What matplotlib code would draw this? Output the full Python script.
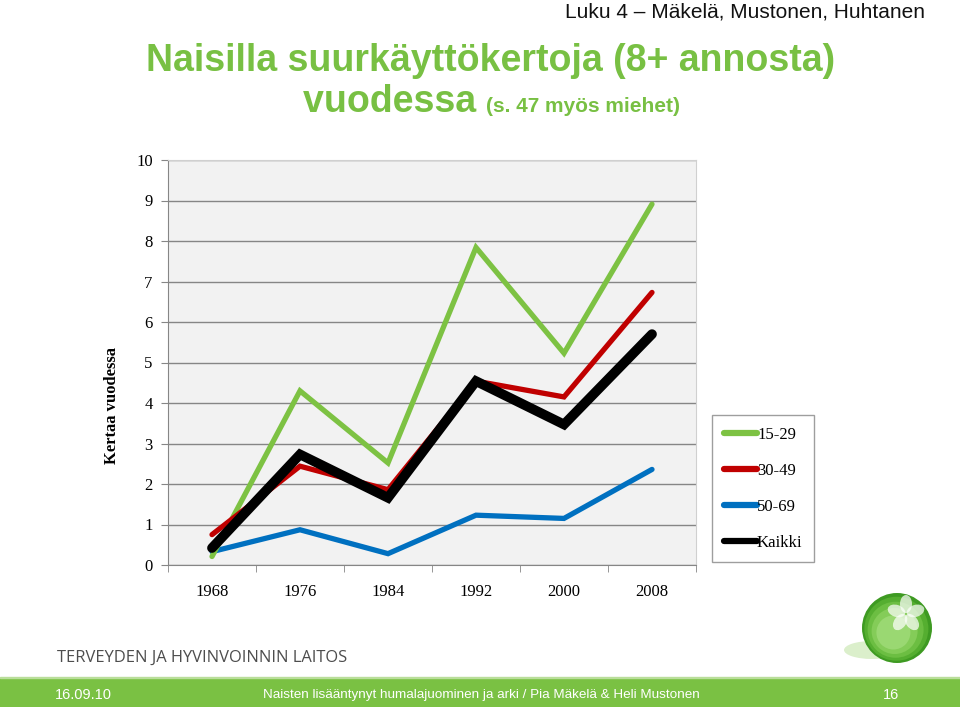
import numpy as np
import matplotlib
matplotlib.use("Agg")
import matplotlib.pyplot as plt
from matplotlib.patches import Circle, Ellipse, Rectangle
from matplotlib.lines import Line2D

# data
years = ["1968", "1976", "1984", "1992", "2000", "2008"]
g15_29 = [0.21, 4.30, 2.52, 7.84, 5.23, 8.91]
g30_49 = [0.75, 2.44, 1.86, 4.54, 4.15, 6.73]
g50_69 = [0.33, 0.87, 0.28, 1.23, 1.15, 2.36]
kaikki = [0.42, 2.73, 1.66, 4.54, 3.47, 5.70]
y_ticks = list(range(0, 11))
labels = ["15-29", "30-49", "50-69", "Kaikki"]

GREEN = "#7DC243"; RED = "#C00000"; BLUE = "#0070C0"; BLACK = "#000000"
TITLE_GREEN = "#78C043"
NARROW = ["Liberation Sans Narrow", "Liberation Sans", "DejaVu Sans"]
SERIF = ["Liberation Serif", "DejaVu Serif"]

W, H = 960, 707
fig = plt.figure(figsize=(W / 100, H / 100), dpi=100)


def fx(px):
    return px / W


def fy(py):
    return 1 - py / H


# chart
ax = fig.add_axes([fx(168), fy(565), fx(696) - fx(168), fy(160) - fy(565)])
ax.set_facecolor("#F2F2F2")
x = np.arange(len(years))
kw = dict(solid_capstyle="round", solid_joinstyle="miter")
ax.plot(x, g50_69, color=BLUE, lw=3.8, zorder=3, **kw)
ax.plot(x, g15_29, color=GREEN, lw=3.8, zorder=4, **kw)
ax.plot(x, g30_49, color=RED, lw=3.8, zorder=5, **kw)
ax.plot(x, kaikki, color=BLACK, lw=7, zorder=6, **kw)

ax.set_xlim(-0.5, len(years) - 0.5)
ax.set_ylim(0, 10)
ax.set_yticks(y_ticks)
ax.set_xticks(x)
ax.set_xticklabels(years)
ax.set_xticks(np.arange(-0.5, len(years)), minor=True)
ax.tick_params(axis="x", which="major", length=0, pad=14)
ax.tick_params(axis="x", which="minor", length=5, color="#868686", direction="out")
ax.tick_params(axis="y", length=5, color="#868686", direction="out", pad=6)
for lab in ax.get_xticklabels() + ax.get_yticklabels():
    lab.set_family(SERIF)
    lab.set_fontsize(12)
ax.yaxis.grid(True, color="#868686", lw=1)
ax.set_axisbelow(True)
for s in ["left", "bottom"]:
    ax.spines[s].set_color("#868686")
for s in ["top", "right"]:
    ax.spines[s].set_color("#D0D0D0")
ax.set_ylabel("Kertaa vuodessa", family=SERIF, fontsize=12, fontweight="bold")
ax.yaxis.set_label_coords(-0.091, 0.393)

handles = [Line2D([], [], color=c, lw=4.5, solid_capstyle="round")
           for c in [GREEN, RED, BLUE, BLACK]]
leg = fig.legend(handles, labels,
                 loc="upper left", bbox_to_anchor=(fx(712), fy(415)),
                 prop={"family": SERIF, "size": 12}, frameon=True, fancybox=False,
                 edgecolor="#868686", handlelength=2.0, handletextpad=0.0,
                 labelspacing=1.2, borderpad=0.7, borderaxespad=0)
leg.get_frame().set_linewidth(1)

# slide texts
fig.text(fx(925), fy(12), "Luku 4 \u2013 Mäkelä, Mustonen, Huhtanen", ha="right", va="center",
         family=NARROW, fontsize=15, color="#111111")
fig.text(fx(491), fy(61), "Naisilla suurkäyttökertoja (8+ annosta)", ha="center", va="center",
         family=NARROW, fontsize=27, fontweight="bold", color=TITLE_GREEN)
t = fig.text(fx(303), fy(112), "vuodessa ", ha="left", va="baseline",
             family=NARROW, fontsize=27, fontweight="bold", color=TITLE_GREEN)
fig.canvas.draw()
bb = t.get_window_extent()
fig.text(bb.x1 / W, fy(112), "(s. 47 myös miehet)", ha="left", va="baseline",
         family=NARROW, fontsize=15, fontweight="bold", color=TITLE_GREEN)

fig.text(fx(57), fy(658), "TERVEYDEN JA HYVINVOINNIN LAITOS", ha="left", va="center",
         family=["Open Sans", "DejaVu Sans"], fontsize=11.9, color="#4D4D4D")

# footer bar
fig.patches.append(Rectangle((0, 0), 1, fy(678), transform=fig.transFigure,
                             color="#7AC143", zorder=0))
fig.patches.append(Rectangle((0, fy(678)), 1, 1.5 / H, transform=fig.transFigure,
                             color="#B9DE9A", zorder=0))
fty = fy(695)
fig.text(fx(55), fty, "16.09.10", ha="left", va="center", family=NARROW, fontsize=10.5, color="white")
fig.text(fx(263), fty, "Naisten lisääntynyt humalajuominen ja arki / Pia Mäkelä & Heli Mustonen",
         ha="left", va="center", family=NARROW, fontsize=9.7, color="white")
fig.text(fx(899), fty, "16", ha="right", va="center", family=NARROW, fontsize=10.5, color="white")

# logo sphere
lax = fig.add_axes([fx(830), fy(672), fx(940) - fx(830), fy(588) - fy(672)])
lax.set_xlim(830, 940)
lax.set_ylim(672, 588)
lax.set_aspect("equal")
lax.axis("off")
lax.add_patch(Ellipse((872, 650), 56, 18, color="#D3EBBF", alpha=0.8, lw=0))
for r, c in [(35, "#3E9A22"), (32, "#55AE30"), (28, "#6CBE42"), (23, "#84CC58"), (17, "#9AD872")]:
    lax.add_patch(Circle((897 - (35 - r) * 0.2, 628 + (35 - r) * 0.25), r, color=c, lw=0))
for ang in [90, 162, 234, 306, 18]:
    a = np.deg2rad(ang)
    lax.add_patch(Ellipse((906 + 10 * np.cos(a), 614 - 10 * np.sin(a)), 12, 18,
                          angle=90 - ang, color="white", alpha=0.7, lw=0))

fig.savefig("out.png", dpi=100)
